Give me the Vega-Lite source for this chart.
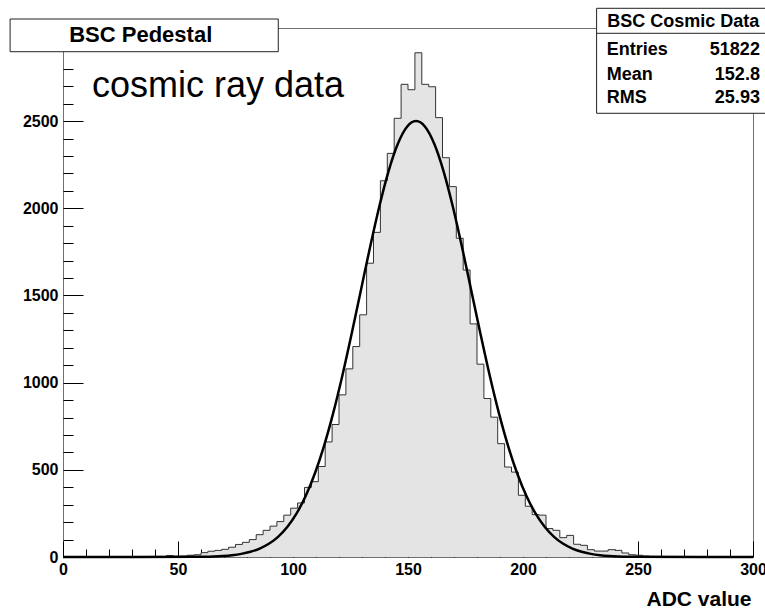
{
  "$schema": "https://vega.github.io/schema/vega-lite/v6.json",
  "width": 690,
  "height": 529,
  "autosize": "none",
  "padding": {"left": 63, "top": 28, "right": 12, "bottom": 53},
  "background": "white",
  "config": {
    "view": {"stroke": "#707070", "strokeWidth": 1},
    "font": "Liberation Sans",
    "axis": {"zindex": 1, "grid": false}
  },
  "datasets": {
    "hist": [
      {"lo": 0, "n": 0}, {"lo": 3, "n": 0}, {"lo": 6, "n": 0}, {"lo": 9, "n": 0}, {"lo": 12, "n": 0},
      {"lo": 15, "n": 0}, {"lo": 18, "n": 0}, {"lo": 21, "n": 0}, {"lo": 24, "n": 0}, {"lo": 27, "n": 0},
      {"lo": 30, "n": 0}, {"lo": 33, "n": 0}, {"lo": 36, "n": 0}, {"lo": 39, "n": 0}, {"lo": 42, "n": 2},
      {"lo": 45, "n": 8}, {"lo": 48, "n": 4}, {"lo": 51, "n": 5}, {"lo": 54, "n": 10}, {"lo": 57, "n": 13},
      {"lo": 60, "n": 25}, {"lo": 63, "n": 33}, {"lo": 66, "n": 38}, {"lo": 69, "n": 44}, {"lo": 72, "n": 56},
      {"lo": 75, "n": 72}, {"lo": 78, "n": 84}, {"lo": 81, "n": 100}, {"lo": 84, "n": 128}, {"lo": 87, "n": 153},
      {"lo": 90, "n": 177}, {"lo": 93, "n": 203}, {"lo": 96, "n": 240}, {"lo": 99, "n": 280}, {"lo": 102, "n": 310},
      {"lo": 105, "n": 399}, {"lo": 108, "n": 432}, {"lo": 111, "n": 519}, {"lo": 114, "n": 660}, {"lo": 117, "n": 760},
      {"lo": 120, "n": 930}, {"lo": 123, "n": 1079}, {"lo": 126, "n": 1207}, {"lo": 129, "n": 1389}, {"lo": 132, "n": 1685},
      {"lo": 135, "n": 1862}, {"lo": 138, "n": 2158}, {"lo": 141, "n": 2315}, {"lo": 144, "n": 2516}, {"lo": 147, "n": 2711},
      {"lo": 150, "n": 2680}, {"lo": 153, "n": 2892}, {"lo": 156, "n": 2711}, {"lo": 159, "n": 2697}, {"lo": 162, "n": 2520},
      {"lo": 165, "n": 2290}, {"lo": 168, "n": 2124}, {"lo": 171, "n": 1828}, {"lo": 174, "n": 1646}, {"lo": 177, "n": 1337},
      {"lo": 180, "n": 1106}, {"lo": 183, "n": 909}, {"lo": 186, "n": 802}, {"lo": 189, "n": 650}, {"lo": 192, "n": 516},
      {"lo": 195, "n": 487}, {"lo": 198, "n": 354}, {"lo": 201, "n": 291}, {"lo": 204, "n": 243}, {"lo": 207, "n": 240},
      {"lo": 210, "n": 163}, {"lo": 213, "n": 153}, {"lo": 216, "n": 111}, {"lo": 219, "n": 124}, {"lo": 222, "n": 73},
      {"lo": 225, "n": 67}, {"lo": 228, "n": 42}, {"lo": 231, "n": 34}, {"lo": 234, "n": 34}, {"lo": 237, "n": 42},
      {"lo": 240, "n": 38}, {"lo": 243, "n": 23}, {"lo": 246, "n": 13}, {"lo": 249, "n": 10}, {"lo": 252, "n": 5},
      {"lo": 255, "n": 3}, {"lo": 258, "n": 0}, {"lo": 261, "n": 0}, {"lo": 264, "n": 0}, {"lo": 267, "n": 0},
      {"lo": 270, "n": 0}, {"lo": 273, "n": 0}, {"lo": 276, "n": 0}, {"lo": 279, "n": 0}, {"lo": 282, "n": 0},
      {"lo": 285, "n": 0}, {"lo": 288, "n": 0}, {"lo": 291, "n": 0}, {"lo": 294, "n": 0}, {"lo": 297, "n": 0}
    ],
    "fit": [
      {"x": 0, "f": 0}, {"x": 57.5, "f": 1.0}, {"x": 61.5, "f": 1.8}, {"x": 65.5, "f": 3.4}, {"x": 69.5, "f": 6.1},
      {"x": 73.5, "f": 10.6}, {"x": 77.5, "f": 18.0}, {"x": 81.5, "f": 29.9}, {"x": 85.5, "f": 48.2}, {"x": 89.5, "f": 75.7},
      {"x": 93.5, "f": 115.7}, {"x": 97.5, "f": 171.9}, {"x": 101.5, "f": 248.5}, {"x": 105.5, "f": 349.6}, {"x": 109.5, "f": 478.8},
      {"x": 113.5, "f": 637.9}, {"x": 117.5, "f": 826.8}, {"x": 121.5, "f": 1042.9}, {"x": 125.5, "f": 1280.1}, {"x": 129.5, "f": 1528.9},
      {"x": 133.5, "f": 1776.8}, {"x": 137.5, "f": 2009.2}, {"x": 141.5, "f": 2210.8}, {"x": 145.5, "f": 2367.1}, {"x": 149.5, "f": 2466.1},
      {"x": 153.5, "f": 2500}, {"x": 157.5, "f": 2466.1}, {"x": 161.5, "f": 2367.1}, {"x": 165.5, "f": 2210.8}, {"x": 169.5, "f": 2009.2},
      {"x": 173.5, "f": 1776.8}, {"x": 177.5, "f": 1528.9}, {"x": 181.5, "f": 1280.1}, {"x": 185.5, "f": 1042.9}, {"x": 189.5, "f": 826.8},
      {"x": 193.5, "f": 637.9}, {"x": 197.5, "f": 478.8}, {"x": 201.5, "f": 349.6}, {"x": 205.5, "f": 248.5}, {"x": 209.5, "f": 171.9},
      {"x": 213.5, "f": 115.7}, {"x": 217.5, "f": 75.7}, {"x": 221.5, "f": 48.2}, {"x": 225.5, "f": 29.9}, {"x": 229.5, "f": 18.0},
      {"x": 233.5, "f": 10.6}, {"x": 237.5, "f": 6.1}, {"x": 241.5, "f": 3.4}, {"x": 245.5, "f": 1.8}, {"x": 249.5, "f": 1.0},
      {"x": 300, "f": 0}
    ]
  },
  "resolve": {"axis": {"x": "independent", "y": "independent"}},
  "layer": [
    {
      "data": {"name": "hist"},
      "mark": {"type": "area", "interpolate": "step-after", "color": "#e4e4e4"},
      "encoding": {
        "x": {
          "field": "lo", "type": "quantitative",
          "scale": {"domain": [0, 300], "nice": false, "zero": false},
          "axis": {
            "orient": "bottom", "values": [0, 50, 100, 150, 200, 250, 300], "format": "d",
            "ticks": false, "domain": false,
            "labelFontWeight": "bold", "labelFontSize": 16, "labelColor": "black", "labelPadding": 4,
            "labelFlush": false, "labelOverlap": false,
            "title": "ADC value", "titleFontSize": 21, "titleFontWeight": "bold", "titleColor": "black",
            "titleAlign": "right", "titleAnchor": "end", "titleX": 688, "titleY": 48, "titleBaseline": "alphabetic"
          }
        },
        "y": {
          "field": "n", "type": "quantitative",
          "scale": {"domain": [0, 3034], "nice": false, "zero": false},
          "axis": {
            "orient": "left", "values": [0, 500, 1000, 1500, 2000, 2500], "format": "d",
            "ticks": false, "domain": false,
            "labelFontWeight": "bold", "labelFontSize": 16, "labelColor": "black", "labelPadding": 5,
            "labelFlush": false, "labelOverlap": false, "labelBaseline": "middle",
            "title": null
          }
        }
      }
    },
    {
      "data": {"name": "hist"},
      "mark": {"type": "line", "interpolate": "step-after", "color": "#333333", "strokeWidth": 1},
      "encoding": {
        "x": {
          "field": "lo", "type": "quantitative",
          "scale": {"domain": [0, 300], "nice": false, "zero": false},
          "axis": {
            "orient": "bottom", "values": [0, 50, 100, 150, 200, 250, 300],
            "labels": false, "domain": false, "tickSize": -16, "tickColor": "black", "tickWidth": 1, "title": null
          }
        },
        "y": {
          "field": "n", "type": "quantitative",
          "scale": {"domain": [0, 3034], "nice": false, "zero": false},
          "axis": {
            "orient": "left", "values": [0, 500, 1000, 1500, 2000, 2500],
            "labels": false, "domain": false, "tickSize": -20, "tickColor": "black", "tickWidth": 1, "title": null
          }
        }
      }
    },
    {
      "data": {"name": "fit"},
      "mark": {"type": "line", "interpolate": "monotone", "color": "black", "strokeWidth": 2.5},
      "encoding": {
        "x": {
          "field": "x", "type": "quantitative",
          "scale": {"domain": [0, 300], "nice": false, "zero": false},
          "axis": {
            "orient": "bottom",
            "values": [10, 20, 30, 40, 60, 70, 80, 90, 110, 120, 130, 140, 160, 170, 180, 190, 210, 220, 230, 240, 260, 270, 280, 290],
            "labels": false, "domain": false, "tickSize": -8, "tickColor": "black", "tickWidth": 1, "title": null
          }
        },
        "y": {
          "field": "f", "type": "quantitative",
          "scale": {"domain": [0, 3034], "nice": false, "zero": false},
          "axis": {
            "orient": "left",
            "values": [100, 200, 300, 400, 600, 700, 800, 900, 1100, 1200, 1300, 1400, 1600, 1700, 1800, 1900, 2100, 2200, 2300, 2400, 2600, 2700, 2800],
            "labels": false, "domain": false, "tickSize": -10, "tickColor": "black", "tickWidth": 1, "title": null
          }
        }
      }
    },
    {
      "data": {"values": [{"label": "cosmic ray data"}]},
      "mark": {"type": "text", "align": "left", "baseline": "alphabetic", "fontSize": 36, "fontWeight": "normal", "color": "black"},
      "encoding": {
        "x": {"datum": 12.6, "type": "quantitative", "scale": {"domain": [0, 300], "nice": false, "zero": false}, "axis": null},
        "y": {"datum": 2640, "type": "quantitative", "scale": {"domain": [0, 3034], "nice": false, "zero": false}, "axis": null},
        "text": {"field": "label"}
      }
    },
    {
      "data": {"values": [{"title": "BSC Pedestal"}]},
      "layer": [
        {
          "mark": {"type": "rect", "fill": "white", "stroke": "#222222", "strokeWidth": 1},
          "encoding": {
            "x": {"datum": -23, "type": "quantitative", "scale": {"domain": [0, 300], "nice": false, "zero": false}, "axis": null},
            "x2": {"datum": 93.6},
            "y": {"datum": 3085.6, "type": "quantitative", "scale": {"domain": [0, 3034], "nice": false, "zero": false}, "axis": null},
            "y2": {"datum": 2898}
          }
        },
        {
          "mark": {"type": "text", "align": "center", "baseline": "alphabetic", "fontSize": 22, "fontWeight": "bold", "color": "black"},
          "encoding": {
            "x": {"datum": 33.8, "type": "quantitative", "scale": {"domain": [0, 300], "nice": false, "zero": false}, "axis": null},
            "y": {"datum": 2955.4, "type": "quantitative", "scale": {"domain": [0, 3034], "nice": false, "zero": false}, "axis": null},
            "text": {"field": "title"}
          }
        }
      ]
    },
    {
      "data": {"values": [{"title": "BSC Cosmic Data"}]},
      "layer": [
        {
          "mark": {"type": "rect", "fill": "white", "stroke": "#222222", "strokeWidth": 1},
          "encoding": {
            "x": {"datum": 232, "type": "quantitative", "scale": {"domain": [0, 300], "nice": false, "zero": false}, "axis": null},
            "x2": {"datum": 310},
            "y": {"datum": 3147, "type": "quantitative", "scale": {"domain": [0, 3034], "nice": false, "zero": false}, "axis": null},
            "y2": {"datum": 2544.8}
          }
        },
        {
          "mark": {"type": "rule", "color": "#222222", "strokeWidth": 1},
          "encoding": {
            "x": {"datum": 232, "type": "quantitative", "scale": {"domain": [0, 300], "nice": false, "zero": false}, "axis": null},
            "x2": {"datum": 310},
            "y": {"datum": 3003.6, "type": "quantitative", "scale": {"domain": [0, 3034], "nice": false, "zero": false}, "axis": null}
          }
        },
        {
          "mark": {"type": "text", "align": "center", "baseline": "alphabetic", "fontSize": 18, "fontWeight": "bold", "color": "black"},
          "encoding": {
            "x": {"datum": 269.7, "type": "quantitative", "scale": {"domain": [0, 300], "nice": false, "zero": false}, "axis": null},
            "y": {"datum": 3041.4, "type": "quantitative", "scale": {"domain": [0, 3034], "nice": false, "zero": false}, "axis": null},
            "text": {"field": "title"}
          }
        }
      ]
    },
    {
      "data": {"values": [{"name": "Entries", "val": "51822"}]},
      "encoding": {
        "y": {"datum": 2879.1, "type": "quantitative", "scale": {"domain": [0, 3034], "nice": false, "zero": false}, "axis": null},
        "text": {"field": "name"}
      },
      "layer": [
        {
          "mark": {"type": "text", "align": "left", "baseline": "alphabetic", "fontSize": 18, "fontWeight": "bold", "color": "black"},
          "encoding": {"x": {"datum": 236.4, "type": "quantitative", "scale": {"domain": [0, 300], "nice": false, "zero": false}, "axis": null}}
        },
        {
          "mark": {"type": "text", "align": "right", "baseline": "alphabetic", "fontSize": 18, "fontWeight": "bold", "color": "black"},
          "encoding": {
            "x": {"datum": 303, "type": "quantitative", "scale": {"domain": [0, 300], "nice": false, "zero": false}, "axis": null},
            "text": {"field": "val"}
          }
        }
      ]
    },
    {
      "data": {"values": [{"name": "Mean", "val": "152.8"}]},
      "encoding": {
        "y": {"datum": 2735.8, "type": "quantitative", "scale": {"domain": [0, 3034], "nice": false, "zero": false}, "axis": null},
        "text": {"field": "name"}
      },
      "layer": [
        {
          "mark": {"type": "text", "align": "left", "baseline": "alphabetic", "fontSize": 18, "fontWeight": "bold", "color": "black"},
          "encoding": {"x": {"datum": 236.4, "type": "quantitative", "scale": {"domain": [0, 300], "nice": false, "zero": false}, "axis": null}}
        },
        {
          "mark": {"type": "text", "align": "right", "baseline": "alphabetic", "fontSize": 18, "fontWeight": "bold", "color": "black"},
          "encoding": {
            "x": {"datum": 303, "type": "quantitative", "scale": {"domain": [0, 300], "nice": false, "zero": false}, "axis": null},
            "text": {"field": "val"}
          }
        }
      ]
    },
    {
      "data": {"values": [{"name": "RMS", "val": "25.93"}]},
      "encoding": {
        "y": {"datum": 2602.1, "type": "quantitative", "scale": {"domain": [0, 3034], "nice": false, "zero": false}, "axis": null},
        "text": {"field": "name"}
      },
      "layer": [
        {
          "mark": {"type": "text", "align": "left", "baseline": "alphabetic", "fontSize": 18, "fontWeight": "bold", "color": "black"},
          "encoding": {"x": {"datum": 236.4, "type": "quantitative", "scale": {"domain": [0, 300], "nice": false, "zero": false}, "axis": null}}
        },
        {
          "mark": {"type": "text", "align": "right", "baseline": "alphabetic", "fontSize": 18, "fontWeight": "bold", "color": "black"},
          "encoding": {
            "x": {"datum": 303, "type": "quantitative", "scale": {"domain": [0, 300], "nice": false, "zero": false}, "axis": null},
            "text": {"field": "val"}
          }
        }
      ]
    }
  ]
}
